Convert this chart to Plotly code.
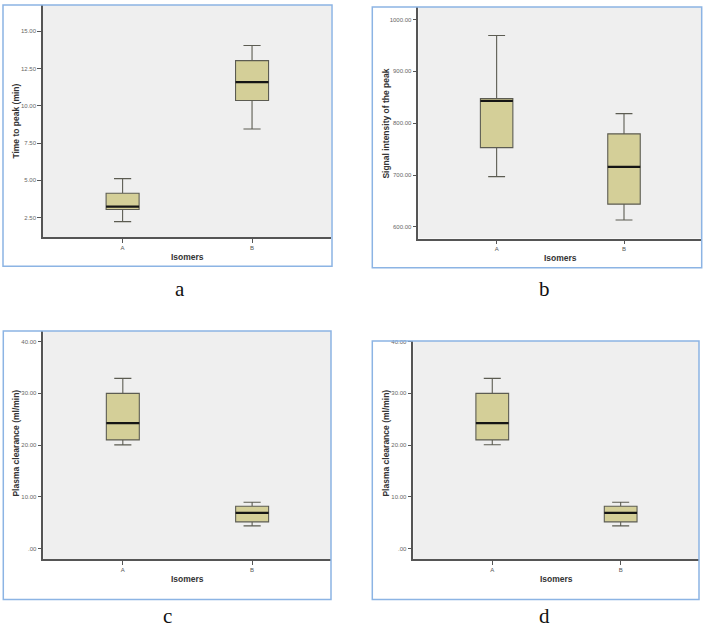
import plotly.graph_objects as go

W, H = 704, 629

categories = ["A", "B"]

# Panel a: Time to peak (min)
a_lower = [2.23, 8.44]
a_q1 = [3.04, 10.35]
a_median = [3.24, 11.59]
a_q3 = [4.13, 13.03]
a_upper = [5.11, 14.04]
a_ticks = [2.5, 5.0, 7.5, 10.0, 12.5, 15.0]
a_ticktext = ["2.50", "5.00", "7.50", "10.00", "12.50", "15.00"]

# Panel b: Signal intensity of the peak
b_lower = [697, 613.5]
b_q1 = [753, 644]
b_median = [843, 716]
b_q3 = [847.5, 779.5]
b_upper = [969, 818.5]
b_ticks = [600, 700, 800, 900, 1000]
b_ticktext = ["600.00", "700.00", "800.00", "900.00", "1000.00"]

# Panels c and d: Plasma clearance (ml/min)
c_lower = [20.05, 4.39]
c_q1 = [21.0, 5.16]
c_median = [24.24, 6.9]
c_q3 = [30.0, 8.19]
c_upper = [32.9, 8.96]
c_ticks = [0, 10, 20, 30, 40]
c_ticktext = [".00", "10.00", "20.00", "30.00", "40.00"]

d_lower = c_lower
d_q1 = c_q1
d_median = c_median
d_q3 = c_q3
d_upper = c_upper

titles_y = ["Time to peak (min)", "Signal intensity of the peak",
            "Plasma clearance (ml/min)", "Plasma clearance (ml/min)"]
title_x = "Isomers"
panel_letters = ["a", "b", "c", "d"]

panels = [
    dict(stats=(a_lower, a_q1, a_median, a_q3, a_upper), ticks=a_ticks, ticktext=a_ticktext,
         plot=(43, 331, 3, 236), yr=(1.18, 16.76), border=(3, 332, 3, 265),
         ytitle=(16, 120), xtitle=(187, 256), letter=(180, 288)),
    dict(stats=(b_lower, b_q1, b_median, b_q3, b_upper), ticks=b_ticks, ticktext=b_ticktext,
         plot=(418.3, 701.7, 5, 237.3), yr=(577.7, 1024), border=(372.3, 701.7, 5, 266.7),
         ytitle=(386, 122), xtitle=(560, 257), letter=(544, 288)),
    dict(stats=(c_lower, c_q1, c_median, c_q3, c_upper), ticks=c_ticks, ticktext=c_ticktext,
         plot=(43.3, 331, 330, 559), yr=(-2.06, 42.06), border=(3.3, 331, 330, 599.3),
         ytitle=(16, 443), xtitle=(187, 579), letter=(167, 616)),
    dict(stats=(d_lower, d_q1, d_median, d_q3, d_upper), ticks=c_ticks, ticktext=c_ticktext,
         plot=(413.3, 699, 340, 559), yr=(-2.06, 40.13), border=(372.3, 699, 340, 599.3),
         ytitle=(386, 443), xtitle=(556, 579), letter=(544, 616)),
]

def px(x):
    return x / W

def py(y):
    return 1 - y / H

BOX_W = 0.255
xpos = list(range(len(categories)))

fig = go.Figure()
layout = dict(width=W, height=H, margin=dict(l=0, r=0, t=0, b=0),
              paper_bgcolor="white", showlegend=False,
              font=dict(family="Liberation Sans, Arial", color="#333"))
shapes = []
annotations = []

for i, p in enumerate(panels):
    n = "" if i == 0 else str(i + 1)
    xa, ya = "x" + n, "y" + n
    lo, q1, med, q3, up = p["stats"]
    fig.add_trace(go.Box(
        x=xpos, q1=q1, median=med, q3=q3, lowerfence=lo, upperfence=up,
        xaxis=xa, yaxis=ya, width=BOX_W, whiskerwidth=0.52,
        fillcolor="#d4cf98", line=dict(color="#5c5c52", width=1.1),
        boxpoints=False, hoverinfo="skip"))
    mx, my = [], []
    for xi, m in zip(xpos, med):
        mx += [xi - BOX_W / 2, xi + BOX_W / 2, None]
        my += [m, m, None]
    fig.add_trace(go.Scatter(x=mx, y=my, mode="lines", xaxis=xa, yaxis=ya,
                             line=dict(color="#151515", width=2.2), hoverinfo="skip"))
    x0, x1, y0, y1 = p["plot"]
    layout["xaxis" + n] = dict(domain=[px(x0), px(x1)], anchor=ya, range=[-0.615, 1.61],
                               tickvals=xpos, ticktext=categories, showgrid=False, zeroline=False,
                               showline=True, linecolor="#555", linewidth=1.5,
                               ticks="outside", ticklen=4, tickcolor="#555",
                               tickfont=dict(size=6, color="#555"), fixedrange=True)
    layout["yaxis" + n] = dict(domain=[py(y1), py(y0)], anchor=xa, range=list(p["yr"]),
                               tickvals=p["ticks"], ticktext=p["ticktext"], showgrid=False,
                               zeroline=False, showline=True, linecolor="#555", linewidth=1.5,
                               ticks="outside", ticklen=4, tickcolor="#555",
                               tickfont=dict(size=6, color="#666"), fixedrange=True)
    shapes.append(dict(type="rect", xref="paper", yref="paper", x0=px(x0), x1=px(x1),
                       y0=py(y1), y1=py(y0), fillcolor="#efefef", line=dict(width=0),
                       layer="below"))
    bx0, bx1, by0, by1 = p["border"]
    shapes.append(dict(type="rect", xref="paper", yref="paper", x0=px(bx0), x1=px(bx1),
                       y0=py(by1), y1=py(by0), line=dict(color="#8cb4e4", width=1.5),
                       layer="above"))
    tx, ty = p["ytitle"]
    annotations.append(dict(text="<b>%s</b>" % titles_y[i], x=px(tx), y=py(ty), xref="paper",
                            yref="paper", showarrow=False, textangle=-90,
                            font=dict(size=8.5, color="#333"), xanchor="center", yanchor="middle"))
    tx, ty = p["xtitle"]
    annotations.append(dict(text="<b>%s</b>" % title_x, x=px(tx), y=py(ty), xref="paper",
                            yref="paper", showarrow=False, font=dict(size=8.5, color="#333"),
                            xanchor="center", yanchor="middle"))
    tx, ty = p["letter"]
    annotations.append(dict(text=panel_letters[i], x=px(tx), y=py(ty), xref="paper",
                            yref="paper", showarrow=False,
                            font=dict(size=21, color="#111", family="Liberation Serif, Times New Roman"),
                            xanchor="center", yanchor="middle"))

layout["shapes"] = shapes
layout["annotations"] = annotations
layout["plot_bgcolor"] = "rgba(0,0,0,0)"
fig.update_layout(**layout)
fig.write_html("out.html")
